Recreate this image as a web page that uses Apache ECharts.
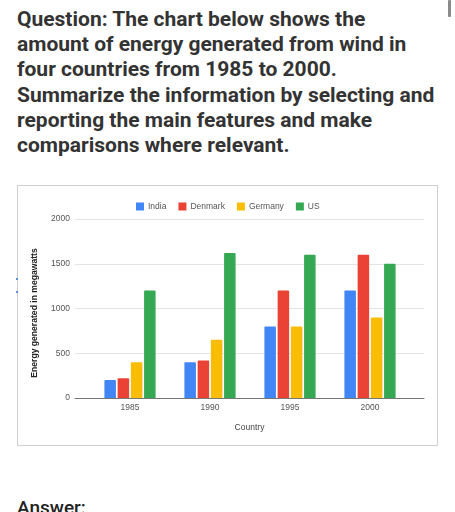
<!DOCTYPE html>
<html>
<head>
<meta charset="utf-8">
<script src="https://cdn.jsdelivr.net/npm/echarts@6/dist/echarts.min.js"></script>
<style>
  html, body { margin: 0; padding: 0; background: #fff; width: 455px; height: 512px; overflow: hidden; }
  #q { position: absolute; left: 17px; top: 7px; font-family: Roboto, "Noto Sans", sans-serif; font-weight: 700; font-size: 21px; line-height: 25.2px; color: #333; white-space: nowrap; }
  #ans { position: absolute; left: 17px; top: 498px; font-family: Roboto, sans-serif; font-weight: 500; font-size: 19px; line-height: 1; color: #222; white-space: nowrap; }
  #box { position: absolute; left: 17px; top: 185px; width: 419px; height: 259px; border: 1px solid #d0d0d0; }
  #chart { width: 419px; height: 259px; }
  #scroll { position: absolute; left: 448px; top: 0; width: 3px; height: 17px; background: #8a8a8a; border-radius: 1px; }
  .dot { position: absolute; left: 16px; width: 2px; height: 2px; background: #5b8fd8; }
</style>
</head>
<body>
<div id="q">Question: The chart below shows the<br>amount of energy generated from wind in<br>four countries from 1985 to 2000.<br>Summarize the information by selecting and<br>reporting the main features and make<br>comparisons where relevant.</div>
<div id="scroll"></div>
<div id="box"><div id="chart"></div></div>
<div class="dot" style="top:278px"></div>
<div class="dot" style="top:291px"></div>
<div id="ans">Answer:</div>
<script>
const years = ['1985', '1990', '1995', '2000'];
const india = [200, 400, 800, 1200];
const denmark = [220, 420, 1200, 1600];
const germany = [400, 650, 800, 900];
const us = [1200, 1620, 1600, 1500];
const seriesNames = ['India', 'Denmark', 'Germany', 'US'];
const seriesColors = ['#4285f4', '#ea4335', '#fbbc04', '#34a853'];
const yTitle = 'Energy generated in megawatts';
const xTitle = 'Country';

const chart = echarts.init(document.getElementById('chart'), null, { renderer: 'canvas' });
const font = '"Liberation Sans", Arial, sans-serif';
const dataSets = [india, denmark, germany, us];

chart.setOption({
  animation: false,
  textStyle: { fontFamily: font },
  legend: {
    left: 113, top: 11,
    itemWidth: 8, itemHeight: 8, itemGap: 12,
    icon: 'rect',
    textStyle: { fontSize: 8.5, color: '#555', fontFamily: font, padding: [0, 0, 0, -1] },
    data: seriesNames
  },
  grid: [
    { left: 57, top: 33, width: 349, height: 179 },
    { left: 72, top: 33, width: 320, height: 179 }
  ],
  xAxis: [
    { gridIndex: 0, type: 'value', min: 0, max: 1, show: true,
      axisLine: { show: true, lineStyle: { color: '#777', width: 1 } },
      axisTick: { show: false }, axisLabel: { show: false }, splitLine: { show: false } },
    { gridIndex: 1, type: 'category', data: years,
      axisLine: { show: false }, axisTick: { show: false },
      axisLabel: { fontSize: 8.5, color: '#555', margin: 5, fontFamily: font } }
  ],
  yAxis: [
    { gridIndex: 0, type: 'value', min: 0, max: 2000, interval: 500,
      axisLine: { show: false }, axisTick: { show: false },
      axisLabel: { fontSize: 8.5, color: '#555', margin: 5, fontFamily: font, formatter: v => String(v) },
      splitLine: { lineStyle: { color: '#e4e4e4', width: 1 } } },
    { gridIndex: 1, type: 'value', min: 0, max: 2000, interval: 500, show: false,
      splitLine: { show: false } }
  ],
  graphic: [
    { type: 'text', x: 231.5, y: 241.7,
      style: { text: xTitle, font: '8.5px ' + font, fill: '#444', textAlign: 'center', textVerticalAlign: 'middle' } },
    { type: 'text', x: 17, y: 127, rotation: Math.PI / 2,
      style: { text: yTitle, font: 'bold 8.6px ' + font, fill: '#222', textAlign: 'center', textVerticalAlign: 'middle' } }
  ],
  series: seriesNames.map((name, i) => ({
    name: name,
    type: 'bar',
    xAxisIndex: 1, yAxisIndex: 1,
    data: dataSets[i],
    barWidth: 11.5,
    barGap: '15%',
    itemStyle: { color: seriesColors[i], borderRadius: [1, 1, 0, 0] }
  }))
});
</script>
</body>
</html>
